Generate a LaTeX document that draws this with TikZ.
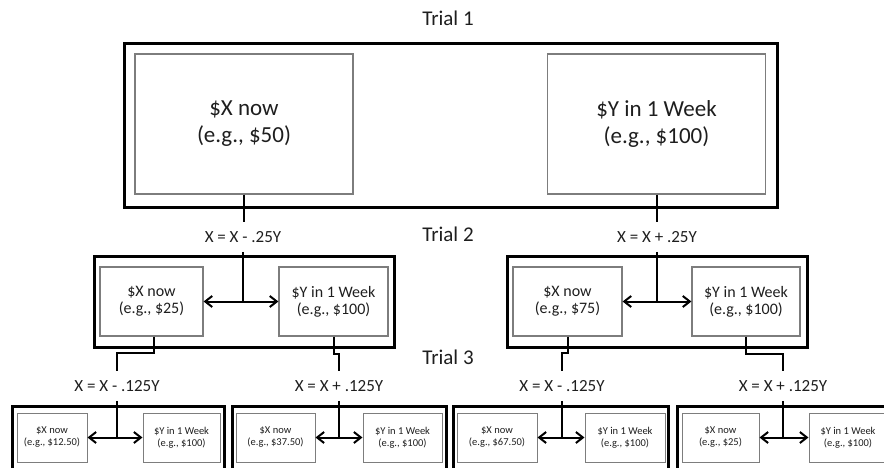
\documentclass[tikz,border=0pt]{standalone}
\usepackage{fontspec}
\setmainfont{Carlito}
\usepackage{xcolor}
\definecolor{boxgray}{RGB}{125,125,125}
\definecolor{inktext}{RGB}{30,30,30}
\usetikzlibrary{arrows.meta}

\begin{document}
\begin{tikzpicture}[
  x=1pt, y=-1pt, text=inktext,
  % --- chart style: edit visual look here -----------------------------
  trial/.style={font=\fontsize{21}{24}\selectfont, inner sep=0pt},
  frame/.style={draw, line width=3pt, inner sep=0pt, minimum height=#1},
  bigopt/.style={draw=boxgray, line width=1.3pt, align=center, inner sep=0pt,
                 font=\fontsize{23}{27}\selectfont,
                 minimum width=218pt, minimum height=140pt},
  midopt/.style={draw=boxgray, line width=1.2pt, align=center, inner sep=0pt,
                 font=\fontsize{16}{17}\selectfont,
                 minimum width=#1, minimum height=69pt},
  smallopt/.style={draw=boxgray, line width=1pt, align=center, inner sep=0pt,
                   font=\fontsize{10.5}{12}\selectfont,
                   minimum width=#1, minimum height=49pt},
  rule/.style={font=\fontsize{17}{20}\selectfont, inner xsep=2pt, inner ysep=9pt},
  conn/.style={line width=2pt},
  swap/.style={conn, {Straight Barb[length=7pt,width=11pt]}-{Straight Barb[length=7pt,width=11pt]}},
  % ---------------------------------------------------------------------
]
  \useasboundingbox (0,0) rectangle (884,467);
  \clip (0,0) rectangle (884,467);

  % Trial labels
  \node[trial] (tr1) at (448,18)  {Trial 1};
  \node[trial] (tr2) at (448,234) {Trial 2};
  \node[trial] (tr3) at (448,357) {Trial 3};

  % Trial 1
  \node[frame=164pt, minimum width=653pt] (f1) at (450.5,125) {};
  \node[bigopt] (x1) at (244,124)   {\$X now\\(e.g., \$50)};
  \node[bigopt] (y1) at (656.5,124) {\$Y in 1 Week\\(e.g., \$100)};

  % Trial 2
  \node[rule] (r2a) at (243,237) {X = X - .25Y};
  \node[rule] (r2b) at (657,237) {X = X + .25Y};

  \node[frame=91pt, minimum width=300pt] (f2a) at (244,301.5) {};
  \node[midopt=103pt] (x2a) at (151.5,301.5) {\$X now\\(e.g., \$25)};
  \node[midopt=109pt] (y2a) at (333.5,301.5) {\$Y in 1 Week\\(e.g., \$100)};

  \node[frame=91pt, minimum width=300pt] (f2b) at (657,301.5) {};
  \node[midopt=109pt] (x2b) at (567.5,301.5) {\$X now\\(e.g., \$75)};
  \node[midopt=108pt] (y2b) at (746,301.5)   {\$Y in 1 Week\\(e.g., \$100)};

  % Trial 3
  \node[rule] (r3a) at (117,386) {X = X - .125Y};
  \node[rule] (r3b) at (339,386) {X = X + .125Y};
  \node[rule] (r3c) at (562,386) {X = X - .125Y};
  \node[rule] (r3d) at (783,386) {X = X + .125Y};

  \node[frame=66pt, minimum width=212pt] (f3a) at (118,439) {};
  \node[smallopt=70pt] (x3a) at (52,437.5)    {\$X now\\(e.g., \$12.50)};
  \node[smallopt=77pt] (y3a) at (181.5,437.5) {\$Y in 1 Week\\(e.g., \$100)};

  \node[frame=66pt, minimum width=214pt] (f3b) at (339,439) {};
  \node[smallopt=79pt] (x3b) at (275.5,437.5) {\$X now\\(e.g., \$37.50)};
  \node[smallopt=79pt] (y3b) at (402.5,437.5) {\$Y in 1 Week\\(e.g., \$100)};

  \node[frame=66pt, minimum width=215pt] (f3c) at (560.5,439) {};
  \node[smallopt=80pt] (x3c) at (497,437.5) {\$X now\\(e.g., \$67.50)};
  \node[smallopt=80pt] (y3c) at (625,437.5) {\$Y in 1 Week\\(e.g., \$100)};

  \node[frame=66pt, minimum width=214pt] (f3d) at (784,439) {};
  \node[smallopt=77pt] (x3d) at (720.5,437.5) {\$X now\\(e.g., \$25)};
  \node[smallopt=78pt] (y3d) at (848,437.5)   {\$Y in 1 Week\\(e.g., \$100)};

  % Connectors: trial 1 -> trial 2
  \draw[conn] (x1.south) -- (x1.south |- r2a.north);
  \draw[conn] (y1.south) -- (y1.south |- r2b.north);
  \draw[conn] (r2a.south) -- (r2a.south |- x2a.east);
  \draw[conn] (r2b.south) -- (r2b.south |- x2b.east);
  \draw[swap] (x2a.east) -- (y2a.west);
  \draw[swap] (x2b.east) -- (y2b.west);

  % Connectors: trial 2 -> trial 3
  \draw[conn] (x2a.south) ++(2,0) -- ++(0,16) -| (r3a.north);
  \draw[conn] (y2a.south) -- ++(0,17) -| (r3b.north);
  \draw[conn] (x2b.south) -- ++(0,16) -| (r3c.north);
  \draw[conn] (y2b.south) -- ++(0,17) -| (r3d.north);
  \draw[conn] (r3a.south) -- (r3a.south |- x3a.east);
  \draw[conn] (r3b.south) -- (r3b.south |- x3b.east);
  \draw[conn] (r3c.south) -- (r3c.south |- x3c.east);
  \draw[conn] (r3d.south) -- (r3d.south |- x3d.east);
  \draw[swap] (x3a.east) -- (y3a.west);
  \draw[swap] (x3b.east) -- (y3b.west);
  \draw[swap] (x3c.east) -- (y3c.west);
  \draw[swap] (x3d.east) -- (y3d.west);
\end{tikzpicture}
\end{document}
